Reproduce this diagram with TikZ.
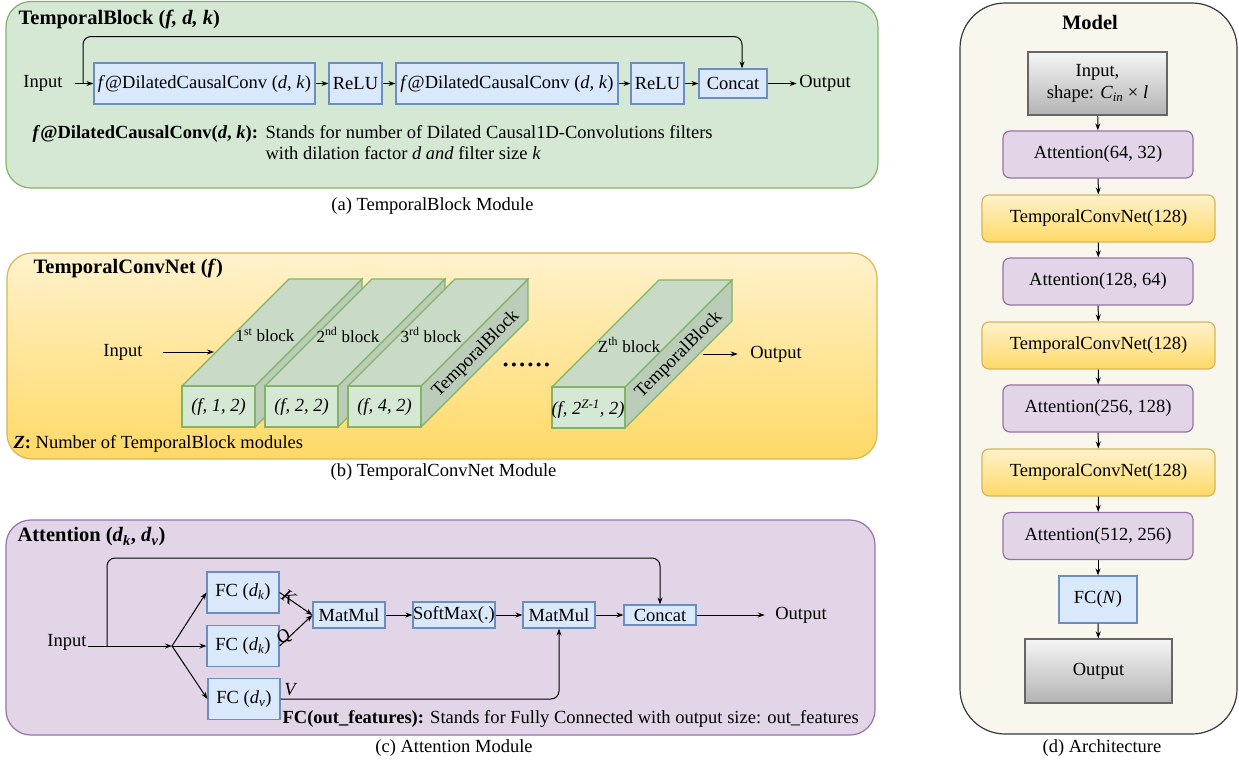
\documentclass[tikz,border=0pt]{standalone}
\usepackage{fontspec}
\setmainfont{Liberation Serif}
\usetikzlibrary{arrows.meta}

\definecolor{greenfill}{HTML}{D5E8D4}
\definecolor{greenline}{HTML}{82B366}
\definecolor{bluefill}{HTML}{DAE8FC}
\definecolor{blueline}{HTML}{6C8EBF}
\definecolor{purpfill}{HTML}{E1D5E7}
\definecolor{purpline}{HTML}{9673A6}
\definecolor{yeltop}{HTML}{FFF2CC}
\definecolor{yelbot}{HTML}{FFD966}
\definecolor{yelline}{HTML}{D6B656}
\definecolor{graytop}{HTML}{F5F5F5}
\definecolor{graybot}{HTML}{B3B3B3}
\definecolor{grayline}{HTML}{666666}
\definecolor{modelfill}{HTML}{F9F7ED}
\definecolor{modelline}{HTML}{36393D}
\definecolor{cubetop}{HTML}{C9DAC6}
\definecolor{cubeside}{HTML}{BBCDB8}

\begin{document}
\begin{tikzpicture}[x=1pt, y=-1pt, line width=1.2pt,
  >={Stealth[length=7pt,width=5pt]},
  font=\fontsize{18.5}{22}\selectfont,
  txt/.style={inner sep=2pt},
  paneltitle/.style={anchor=west, inner sep=0pt, font=\fontsize{20.5}{24}\selectfont\bfseries},
  blk/.style={draw=blueline, fill=bluefill, inner sep=1pt, minimum height=41pt},
  attbox/.style={draw=purpline, fill=purpfill, rounded corners=7pt, minimum width=190pt, minimum height=47pt},
  tcnbox/.style={draw=yelline, top color=yeltop, bottom color=yelbot, rounded corners=7pt, minimum width=233pt, minimum height=47pt},
  graybox/.style={draw=grayline, top color=graytop, bottom color=graybot, align=center},
  cubefront/.style={draw=greenline, fill=greenfill},
  cubetopf/.style={draw=greenline, fill=cubetop},
  cubesidef/.style={draw=greenline, fill=cubeside},
  flow/.style={->, line width=1pt},
  edgelbl/.style={sloped, above=-5pt, inner sep=0pt, font=\fontsize{18.5}{22}\selectfont\itshape}]
\useasboundingbox (0,0) rectangle (1239,764);

% (a) TemporalBlock
\draw[draw=greenline, fill=greenfill, rounded corners=25pt] (6,1.5) rectangle (878,188);
\node[paneltitle] (titleA) at (18,19) {TemporalBlock (\textit{f, d, k})};
\node[txt] (inA) at (43,83.5) {Input};
\node[blk, minimum width=221pt] (convA1) at (204.5,83.5) {\textit{f}@DilatedCausalConv (\textit{d, k})};
\node[blk, minimum width=53pt] (reluA1) at (355.5,83.5) {ReLU};
\node[blk, minimum width=222pt] (convA2) at (507,83.5) {\textit{f}@DilatedCausalConv (\textit{d, k})};
\node[blk, minimum width=53pt] (reluA2) at (657.5,83.5) {ReLU};
\node[blk, minimum width=68pt, minimum height=29pt] (catA) at (733,83.5) {Concat};
\node[txt] (outA) at (825,83.5) {Output};
\coordinate (skipA) at (83,83.5);
\draw[flow, shorten <=10pt] (inA) -- (convA1);
\draw[flow] (convA1) -- (reluA1);
\draw[flow] (reluA1) -- (convA2);
\draw[flow] (convA2) -- (reluA2);
\draw[flow] (reluA2) -- (catA);
\draw[flow] (catA) -- (outA);
\draw[flow, rounded corners=8pt] (skipA) -- ++(0,-47) -| ([xshift=9pt]catA.north);
\node[txt, anchor=base west] (keyA) at (30,138) {\textbf{\textit{f}@DilatedCausalConv(\textit{d}, \textit{k}):}};
\node[txt, anchor=base west] (noteA1) at (263,138) {Stands for number of Dilated Causal1D-Convolutions filters};
\node[txt, anchor=base west] (noteA2) at (263,159) {with dilation factor \textit{d and} filter size \textit{k}};
\node[txt] (capA) at (432.5,206) {(a) TemporalBlock Module};

% (b) TemporalConvNet
\shadedraw[draw=yelline, top color=yeltop, bottom color=yelbot, rounded corners=25pt] (7,253) rectangle (877,459);
\node[paneltitle] (titleB) at (33,268) {TemporalConvNet (\textit{f})};
\foreach \bx/\bi/\bord/\bd in {182/1/st/1, 265/2/nd/2, 348/3/rd/4} {
  \filldraw[cubesidef] (\bx+73,386) -- ++(107,-107) -- ++(0,41) -- ++(-107,107) -- cycle;
  \filldraw[cubetopf] (\bx,386) -- ++(107,-107) -- ++(73,0) -- ++(-107,107) -- cycle;
  \filldraw[cubefront] (\bx,386) rectangle ++(73,41);
  \node[txt, font=\fontsize{17}{20}\selectfont] (lblB\bi) at (\bx+83,335) {\bi\textsuperscript{\bord} block};
  \node[txt, font=\fontsize{18.5}{22}\selectfont\itshape] (parB\bi) at (\bx+36.5,406.5) {(f, \bd, 2)};
}
\node[txt, inner sep=0pt, rotate=45] (sideB3) at (476,354) {TemporalBlock};
% Z-th block
\filldraw[cubesidef] (625,387) -- ++(107,-107) -- ++(0,41) -- ++(-107,107) -- cycle;
\filldraw[cubetopf] (552,387) -- ++(107,-107) -- ++(73,0) -- ++(-107,107) -- cycle;
\filldraw[cubefront] (552,387) rectangle ++(73,41);
\node[txt, font=\fontsize{17}{20}\selectfont] (lblBz) at (629,345) {Z\textsuperscript{th} block};
\node[txt, inner sep=0pt, font=\fontsize{18.5}{22}\selectfont\itshape] (parBz) at (588,409) {(f, 2\textsuperscript{Z-1}, 2)};
\node[txt, inner sep=0pt, rotate=45] (sideBz) at (679,355) {TemporalBlock};
\node[txt, anchor=base west, inner sep=0pt, font=\fontsize{33}{36}\selectfont] (dotsB) at (501,366) {......};
\node[txt] (inB) at (123,352) {Input};
\node[txt] (outB) at (776,354) {Output};
\coordinate (entB) at (214,352);
\coordinate (exB) at (703,354);
\draw[flow, shorten <=18pt] (inB) -- (entB);
\draw[flow, shorten >=10pt] (exB) -- (outB);
\node[txt, anchor=west] (noteB) at (11,444) {\textbf{\textit{Z}:} Number of TemporalBlock modules};
\node[txt] (capB) at (443.5,472) {(b) TemporalConvNet Module};

% (c) Attention
\draw[draw=purpline, fill=purpfill, rounded corners=25pt] (6,520) rectangle (875,735);
\node[paneltitle] (titleC) at (17,537) {Attention (\textit{d}\textsubscript{\textit{k}}, \textit{d}\textsubscript{\textit{v}})};
\node[txt, inner sep=1pt, anchor=base east] (inC) at (88,646) {Input};
\coordinate (splitC) at (172,646);
\coordinate (skipC) at (107,646);
\node[blk, minimum width=72pt] (fcC1) at (243,592.5) {FC (\textit{d}\textsubscript{\textit{k}})};
\node[blk, minimum width=72pt] (fcC2) at (243,646) {FC (\textit{d}\textsubscript{\textit{k}})};
\node[blk, minimum width=72pt] (fcC3) at (244,699) {FC (\textit{d}\textsubscript{\textit{v}})};
\node[blk, minimum width=72pt, minimum height=26pt] (mmC1) at (349,615) {MatMul};
\node[blk, minimum width=82pt, minimum height=26pt, inner sep=0pt] (smC) at (454,615) {SoftMax(.)};
\node[blk, minimum width=72pt, minimum height=26pt] (mmC2) at (559,615) {MatMul};
\node[blk, minimum width=72pt, minimum height=20pt] (catC) at (660,615) {Concat};
\node[txt] (outC) at (801,615) {Output};
\node[txt, font=\fontsize{18.5}{22}\selectfont\itshape] (vC) at (290,690) {V};
\draw[flow] (inC.base east) -- (splitC);
\draw[flow] (splitC) -- (fcC1.west);
\draw[flow] (splitC) -- (fcC2.west);
\draw[flow] (splitC) -- (fcC3.west);
\draw[flow] (fcC1.east) -- node[edgelbl, pos=0.25] (kC) {K} (mmC1.west);
\draw[flow] (fcC2.east) -- node[edgelbl, pos=0.2] (qC) {Q} (mmC1.west);
\draw[flow] (mmC1) -- (smC);
\draw[flow] (smC) -- (mmC2);
\draw[flow] (mmC2) -- (catC);
\draw[flow, shorten >=8pt] (catC) -- (outC);
\draw[flow, rounded corners=8pt] (fcC3.east) -| (mmC2.south);
\draw[flow, rounded corners=8pt] (skipC) -- ++(0,-88) -| (catC.north);
\node[txt, anchor=base west] (noteC) at (280,723) {\textbf{FC(out\_features):} Stands for Fully Connected with output size: out\_features};
\node[txt] (capC) at (454,748) {(c) Attention Module};

% (d) Architecture
\draw[draw=modelline, fill=modelfill, rounded corners=45pt] (960,3) rectangle (1237,734);
\node[txt, font=\fontsize{20.5}{24}\selectfont\bfseries] (titleD) at (1090,22) {Model};
\node[graybox, minimum width=139pt, minimum height=63pt] (inD) at (1097.5,83.5) {Input,\\shape: \textit{C}\textsubscript{\textit{in}} × \textit{l}};
\node[attbox] (attD1) at (1098,154.5) {Attention(64, 32)};
\node[tcnbox] (tcnD1) at (1098.5,218.5) {TemporalConvNet(128)};
\node[attbox] (attD2) at (1098,281.5) {Attention(128, 64)};
\node[tcnbox] (tcnD2) at (1098.5,345.5) {TemporalConvNet(128)};
\node[attbox] (attD3) at (1098,408.5) {Attention(256, 128)};
\node[tcnbox] (tcnD3) at (1098.5,472.5) {TemporalConvNet(128)};
\node[attbox] (attD4) at (1098,536) {Attention(512, 256)};
\node[blk, minimum width=78pt, minimum height=47pt] (fcD) at (1098,599.5) {FC(\textit{N})};
\node[graybox, minimum width=147pt, minimum height=64pt] (outD) at (1098.5,671) {Output};
\draw[flow] (inD) -- (attD1);
\draw[flow] (attD1) -- (tcnD1);
\draw[flow] (tcnD1) -- (attD2);
\draw[flow] (attD2) -- (tcnD2);
\draw[flow] (tcnD2) -- (attD3);
\draw[flow] (attD3) -- (tcnD3);
\draw[flow] (tcnD3) -- (attD4);
\draw[flow] (attD4) -- (fcD);
\draw[flow] (fcD) -- (outD);
\node[txt] (capD) at (1102,748) {(d) Architecture};
\end{tikzpicture}
\end{document}
